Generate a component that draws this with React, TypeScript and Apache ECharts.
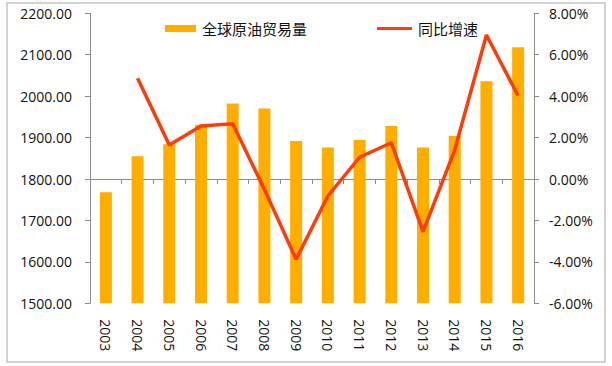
import React, { useEffect, useRef } from "react";
import * as echarts from "echarts";

const years = ["2003","2004","2005","2006","2007","2008","2009","2010","2011","2012","2013","2014","2015","2016"];
const tradeVolume = [1768, 1855, 1884, 1931, 1982, 1970, 1892, 1876, 1894, 1928, 1876, 1904, 2036, 2118];
const growthRate = [null, 4.86, 1.64, 2.56, 2.67, -0.5, -3.88, -0.82, 1.05, 1.75, -2.54, 1.4, 6.95, 4.02];
const barName = "全球原油贸易量";
const lineName = "同比增速";

export default function App() {
  const ref = useRef<HTMLDivElement>(null);
  useEffect(() => {
    document.body.style.margin = "0";
    const chart = echarts.init(ref.current!, null, { renderer: "svg" });
    const font = "'Open Sans', 'Noto Sans', sans-serif";
    const axisLine = { show: true, lineStyle: { color: "#8c8c8c", width: 1 } };
    const legendText = { fontSize: 15, color: "#111", fontFamily: "'Noto Sans CJK SC', sans-serif", padding: [0, 0, 0, 1] };
    chart.setOption({
      animation: false,
      backgroundColor: "#fff",
      textStyle: { fontFamily: font },
      graphic: [
        {
          type: "rect",
          shape: { x: 7, y: 3, width: 598, height: 359 },
          style: { fill: "none", stroke: "#c4c4c4", lineWidth: 1.5 },
          silent: true,
        },
      ],
      legend: [
        {
          top: 16,
          left: 160,
          itemWidth: 31,
          itemHeight: 7,
          textStyle: legendText,
          data: [{ name: barName, icon: "rect" }],
        },
        {
          top: 16,
          left: 372,
          itemWidth: 35,
          itemHeight: 3,
          textStyle: legendText,
          data: [{ name: lineName, icon: "rect" }],
        },
      ],
      grid: { left: 90, right: 78, top: 13.3, bottom: 62.7, containLabel: false },
      xAxis: {
        type: "category",
        data: years,
        boundaryGap: true,
        axisLine,
        axisTick: { show: true, length: 5, lineStyle: { color: "#8c8c8c" } },
        axisLabel: { rotate: -90, fontSize: 14, color: "#111", margin: 16, interval: 0, fontFamily: font },
      },
      yAxis: [
        {
          type: "value",
          min: 1500,
          max: 2200,
          interval: 100,
          axisLine,
          axisTick: { show: true, length: 5, lineStyle: { color: "#8c8c8c" } },
          splitLine: { show: false },
          axisLabel: { fontSize: 14, color: "#111", margin: 18, formatter: (v: number) => v.toFixed(2), fontFamily: font },
        },
        {
          type: "value",
          min: -6,
          max: 8,
          interval: 2,
          position: "right",
          axisLine,
          axisTick: { show: true, length: 5, lineStyle: { color: "#8c8c8c" } },
          splitLine: { show: false },
          axisLabel: { fontSize: 14, color: "#111", margin: 15, formatter: (v: number) => v.toFixed(2) + "%", fontFamily: font },
        },
      ],
      series: [
        {
          name: barName,
          type: "bar",
          data: tradeVolume,
          barWidth: 12,
          itemStyle: { color: "#ffae00" },
          yAxisIndex: 0,
        },
        {
          name: lineName,
          type: "line",
          data: growthRate,
          yAxisIndex: 1,
          symbol: "none",
          lineStyle: { color: "#ff3b0a", width: 3.5 },
          itemStyle: { color: "#ff3b0a" },
          connectNulls: false,
        },
      ],
    });
    return () => chart.dispose();
  }, []);
  return <div ref={ref} style={{ width: 612, height: 366 }} />;
}
